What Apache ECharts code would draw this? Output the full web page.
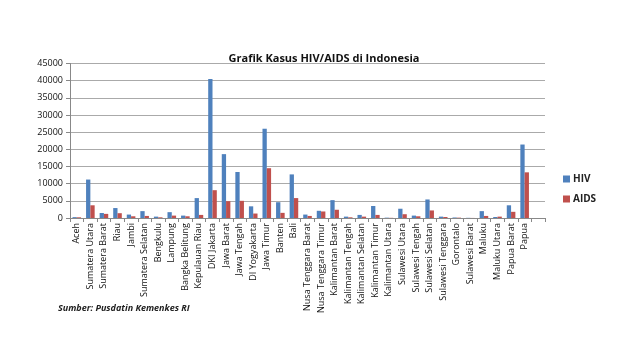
<!DOCTYPE html>
<html>
<head>
<meta charset="utf-8">
<script src="https://cdn.jsdelivr.net/npm/echarts@6/dist/echarts.min.js"></script>
<style>html,body{margin:0;padding:0;background:#fff;}#c{width:640px;height:360px;}</style>
</head>
<body>
<div id="c"></div>
<script>
var categories = ['Aceh','Sumatera Utara','Sumatera Barat','Riau','Jambi','Sumatera Selatan','Bengkulu','Lampung','Bangka Belitung','Kepulauan Riau','DKI Jakarta','Jawa Barat','Jawa Tengah','DI Yogyakarta','Jawa Timur','Banten','Bali','Nusa Tenggara Barat','Nusa Tenggara Timur','Kalimantan Barat','Kalimantan Tengah','Kalimantan Selatan','Kalimantan Timur','Kalimantan Utara','Sulawesi Utara','Sulawesi Tengah','Sulawesi Selatan','Sulawesi Tenggara','Gorontalo','Sulawesi Barat','Maluku','Maluku Utara','Papua Barat','Papua',''];
var hiv = [250,11200,1450,2900,1000,2000,400,1700,700,5800,40500,18600,13400,3400,26000,4600,12700,1000,2100,5200,400,900,3500,100,2700,700,5400,400,150,50,2000,300,3700,21400,null];
var aids = [200,3700,1200,1400,500,600,200,700,500,900,8100,4900,5000,1300,14500,1500,5800,600,1900,2400,200,400,900,50,1100,500,2200,300,100,20,600,400,1800,13300,null];
var yTicks = [0,5000,10000,15000,20000,25000,30000,35000,40000,45000];

var chart = echarts.init(document.getElementById('c'));
chart.setOption({
  animation: false,
  title: {
    text: 'Grafik Kasus HIV/AIDS di Indonesia',
    left: 319, top: 48, textAlign: 'center',
    textStyle: {fontFamily: 'Open Sans', fontWeight: 'bold', fontSize: 11, color: '#111'}
  },
  graphic: [{
    type: 'text', left: 58, top: 304,
    style: {text: 'Sumber: Pusdatin Kemenkes RI', fontFamily: 'Open Sans', fontStyle: 'italic', fontWeight: 'bold', fontSize: 9, fill: '#222'}
  }],
  legend: {
    orient: 'vertical', left: 558, top: 169, itemWidth: 7, itemHeight: 7, itemGap: 10, icon: 'rect',
    textStyle: {fontFamily: 'Open Sans', fontSize: 10, fontWeight: 'bold', color: '#222', padding: [0,0,0,-2]},
    data: ['HIV','AIDS']
  },
  grid: {left: 70, right: 95, top: 63.5, bottom: 142, containLabel: false},
  xAxis: {
    type: 'category', data: categories,
    axisLine: {lineStyle: {color: '#888'}},
    axisTick: {show: true, alignWithLabel: false, length: 4, lineStyle: {color: '#888'}},
    axisLabel: {rotate: 90, interval: 0, fontFamily: 'Open Sans', fontSize: 9, color: '#111', margin: 5}
  },
  yAxis: {
    type: 'value', min: 0, max: 45000, interval: 5000,
    axisLine: {show: true, lineStyle: {color: '#888'}},
    axisTick: {show: true, length: 4, lineStyle: {color: '#888'}},
    axisLabel: {fontFamily: 'Open Sans', fontSize: 9, color: '#111', margin: 7,
      formatter: function (v) { return yTicks.indexOf(v) >= 0 ? String(v) : ''; }},
    splitLine: {lineStyle: {color: '#aaa', width: 1}}
  },
  series: [
    {name: 'HIV', type: 'bar', data: hiv, barWidth: 4.3, barGap: '0%', itemStyle: {color: '#4F81BD'}},
    {name: 'AIDS', type: 'bar', data: aids, barWidth: 4.3, barGap: '0%', itemStyle: {color: '#C0504D'}}
  ]
});
</script>
</body>
</html>
